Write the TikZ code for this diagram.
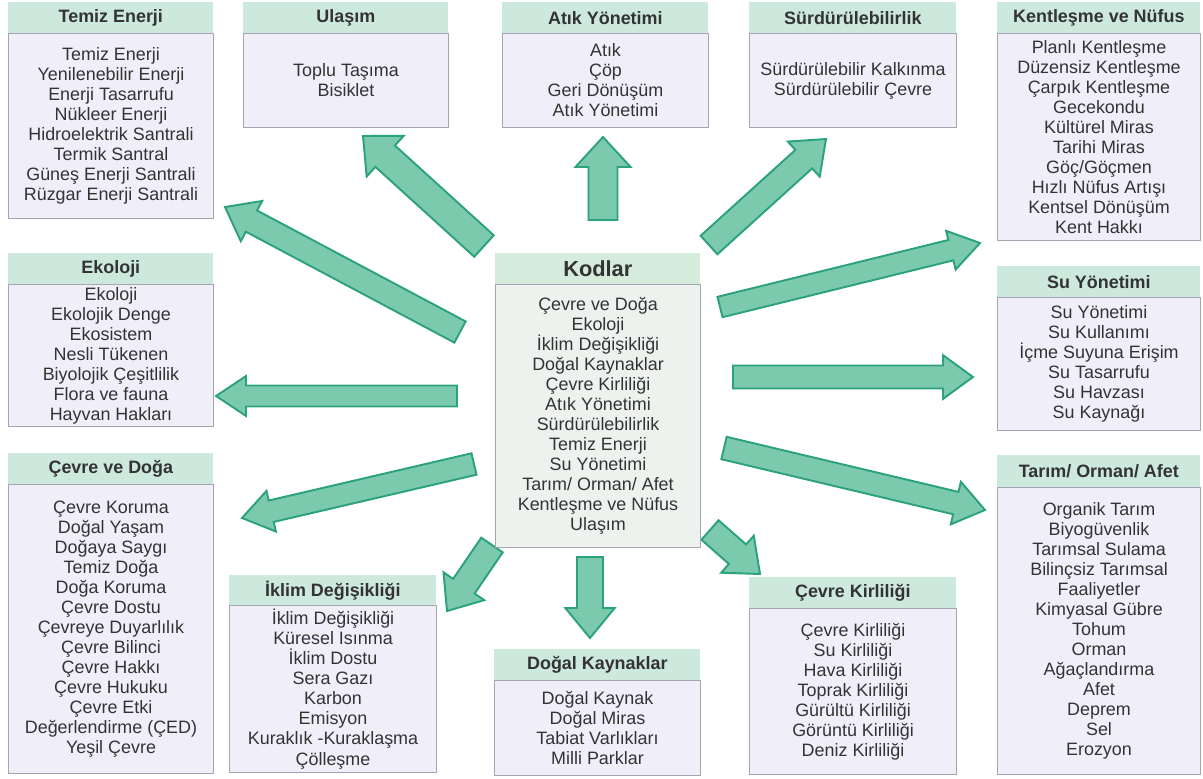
\documentclass[tikz,border=0pt]{standalone}
\usepackage{fontspec}
\setmainfont{Liberation Sans}
\usetikzlibrary{calc}

\definecolor{baslikyesil}{HTML}{CDE8DD}
\definecolor{govdemor}{HTML}{F0EEF8}
\definecolor{kenargri}{HTML}{A4A4B2}
\definecolor{kodbaslik}{HTML}{D5EBDC}
\definecolor{kodgovde}{HTML}{EEF2EF}
\definecolor{okdolgu}{HTML}{7CCAAE}
\definecolor{okkenar}{HTML}{2BA27C}
\definecolor{yazi}{HTML}{333333}

% kalin ok: #1 govde genisligi (px), #2 kuyruk, #3 uc
\newcommand{\kalinok}[3]{%
  \pgfmathsetmacro{\okw}{#1*0.01}%
  \pgfmathsetmacro{\okh}{#1*0.019}%
  \coordinate (oktaban) at ($(#3)!0.6cm!(#2)$);
  \filldraw[okstil] ($(#2)!\okw cm!90:(#3)$) -- ($(oktaban)!\okw cm!90:(#3)$)
    -- ($(oktaban)!\okh cm!90:(#3)$) -- (#3) -- ($(oktaban)!\okh cm!-90:(#3)$)
    -- ($(oktaban)!\okw cm!-90:(#3)$) -- ($(#2)!\okw cm!-90:(#3)$) -- cycle;
}

\begin{document}
\begin{tikzpicture}[x=0.02cm, y=-0.02cm,
    baslik/.style={anchor=north west, fill=baslikyesil, text=yazi, inner sep=0pt,
      font=\fontsize{10.2}{12}\selectfont\bfseries, minimum height=0.62cm},
    liste/.style={anchor=north west, draw=kenargri, line width=0.6pt, fill=govdemor,
      text=yazi, align=center, inner sep=0pt, font=\fontsize{10.2}{11.4}\selectfont},
    okstil/.style={fill=okdolgu, draw=okkenar, line width=1.1pt, line join=miter}]
                \useasboundingbox (0,0) rectangle (1203,778);

                % ok uclari
                \coordinate (k-temiz) at (460,332);  \coordinate (u-temiz) at (225,207);
                \coordinate (k-ulasim) at (484,246); \coordinate (u-ulasim) at (363,136);
                \coordinate (k-atik) at (603,220);   \coordinate (u-atik) at (603,137);
                \coordinate (k-surd) at (709,245);   \coordinate (u-surd) at (826,139);
                \coordinate (k-kent) at (720,307);   \coordinate (u-kent) at (980,243);
                \coordinate (k-su) at (733,377);     \coordinate (u-su) at (973,377);
                \coordinate (k-tarim) at (724,448);  \coordinate (u-tarim) at (985,510);
                \coordinate (k-kirli) at (710,530);  \coordinate (u-kirli) at (760,574);
                \coordinate (k-dogal) at (590,557);  \coordinate (u-dogal) at (590,638);
                \coordinate (k-iklim) at (492,545);  \coordinate (u-iklim) at (447,611);
                \coordinate (k-cevre) at (474,464);  \coordinate (u-cevre) at (242,518);
                \coordinate (k-ekoloji) at (457,396); \coordinate (u-ekoloji) at (216,396);

                \kalinok{24}{k-temiz}{u-temiz}
                \kalinok{29}{k-ulasim}{u-ulasim}
                \kalinok{29}{k-atik}{u-atik}
                \kalinok{25}{k-surd}{u-surd}
                \kalinok{21}{k-kent}{u-kent}
                \kalinok{23}{k-su}{u-su}
                \kalinok{23}{k-tarim}{u-tarim}
                \kalinok{26}{k-kirli}{u-kirli}
                \kalinok{26}{k-dogal}{u-dogal}
                \kalinok{26}{k-iklim}{u-iklim}
                \kalinok{22}{k-cevre}{u-cevre}
                \kalinok{21}{k-ekoloji}{u-ekoloji}

                % ust sira
                \node[baslik, minimum width=4.1cm] (temiz-b) at (8,2) {Temiz Enerji};
                \node[liste, minimum width=4.1cm, minimum height=3.7cm] (temiz) at (8,33)
                  {Temiz Enerji\\Yenilenebilir Enerji\\Enerji Tasarrufu\\Nükleer Enerji\\Hidroelektrik Santrali\\Termik Santral\\Güneş Enerji Santrali\\Rüzgar Enerji Santrali};
                \node[baslik, minimum width=4.1cm] (ulasim-b) at (243,2) {Ulaşım};
                \node[liste, minimum width=4.1cm, minimum height=1.88cm] (ulasim) at (243,33)
                  {Toplu Taşıma\\Bisiklet};
                \node[baslik, minimum width=4.12cm] (atik-b) at (502,2) {Atık Yönetimi};
                \node[liste, minimum width=4.12cm, minimum height=1.88cm] (atik) at (502,33)
                  {Atık\\Çöp\\Geri Dönüşüm\\Atık Yönetimi};
                \node[baslik, minimum width=4.14cm] (surd-b) at (749,2) {Sürdürülebilirlik};
                \node[liste, minimum width=4.14cm, minimum height=1.88cm] (surd) at (749,33)
                  {Sürdürülebilir Kalkınma\\Sürdürülebilir Çevre};
                \node[baslik, minimum width=4.06cm] (kent-b) at (997,2) {Kentleşme ve Nüfus};
                \node[liste, minimum width=4.06cm, minimum height=4.14cm] (kent) at (997,33)
                  {Planlı Kentleşme\\Düzensiz Kentleşme\\Çarpık Kentleşme\\Gecekondu\\Kültürel Miras\\Tarihi Miras\\Göç/Göçmen\\Hızlı Nüfus Artışı\\Kentsel Dönüşüm\\Kent Hakkı};

                % orta sira
                \node[baslik, minimum width=4.1cm] (ekoloji-b) at (8,253) {Ekoloji};
                \node[liste, minimum width=4.1cm, minimum height=2.84cm] (ekoloji) at (8,284)
                  {Ekoloji\\Ekolojik Denge\\Ekosistem\\Nesli Tükenen\\Biyolojik Çeşitlilik\\Flora ve fauna\\Hayvan Hakları};
                \node[baslik, fill=kodbaslik, minimum width=4.1cm, font=\fontsize{12.4}{14}\selectfont\bfseries] (kodlar-b) at (495,253) {Kodlar};
                \node[liste, fill=kodgovde, minimum width=4.1cm, minimum height=5.26cm] (kodlar) at (495,284)
                  {Çevre ve Doğa\\Ekoloji\\İklim Değişikliği\\Doğal Kaynaklar\\Çevre Kirliliği\\Atık Yönetimi\\Sürdürülebilirlik\\Temiz Enerji\\Su Yönetimi\\Tarım/ Orman/ Afet\\Kentleşme ve Nüfus\\Ulaşım};
                \node[baslik, minimum width=4.06cm] (su-b) at (997,266) {Su Yönetimi};
                \node[liste, minimum width=4.06cm, minimum height=2.66cm] (su) at (997,297)
                  {Su Yönetimi\\Su Kullanımı\\İçme Suyuna Erişim\\Su Tasarrufu\\Su Havzası\\Su Kaynağı};

                % alt sira
                \node[baslik, minimum width=4.1cm] (cevre-b) at (8,453) {Çevre ve Doğa};
                \node[liste, minimum width=4.1cm, minimum height=5.78cm] (cevre) at (8,484)
                  {Çevre Koruma\\Doğal Yaşam\\Doğaya Saygı\\Temiz Doğa\\Doğa Koruma\\Çevre Dostu\\Çevreye Duyarlılık\\Çevre Bilinci\\Çevre Hakkı\\Çevre Hukuku\\Çevre Etki\\Değerlendirme (ÇED)\\Yeşil Çevre};
                \node[baslik, minimum width=4.14cm, minimum height=0.6cm] (iklim-b) at (229,575) {İklim Değişikliği};
                \node[liste, minimum width=4.14cm, minimum height=3.34cm] (iklim) at (229,605)
                  {İklim Değişikliği\\Küresel Isınma\\İklim Dostu\\Sera Gazı\\Karbon\\Emisyon\\Kuraklık -Kuraklaşma\\Çölleşme};
                \node[baslik, minimum width=4.12cm] (dogal-b) at (494,649) {Doğal Kaynaklar};
                \node[liste, minimum width=4.12cm, minimum height=1.9cm] (dogal) at (494,680)
                  {Doğal Kaynak\\Doğal Miras\\Tabiat Varlıkları\\Milli Parklar};
                \node[baslik, minimum width=4.14cm] (kirli-b) at (749,577) {Çevre Kirliliği};
                \node[liste, minimum width=4.14cm, minimum height=3.32cm] (kirli) at (749,608)
                  {Çevre Kirliliği\\Su Kirliliği\\Hava Kirliliği\\Toprak Kirliliği\\Gürültü Kirliliği\\Görüntü Kirliliği\\Deniz Kirliliği};
                \node[baslik, minimum width=4.06cm, minimum height=0.64cm] (tarim-b) at (997,455) {Tarım/ Orman/ Afet};
                \node[liste, minimum width=4.06cm, minimum height=5.74cm] (tarim) at (997,487)
                  {Organik Tarım\\Biyogüvenlik\\Tarımsal Sulama\\Bilinçsiz Tarımsal\\Faaliyetler\\Kimyasal Gübre\\Tohum\\Orman\\Ağaçlandırma\\Afet\\Deprem\\Sel\\Erozyon};

            \end{tikzpicture}
\end{document}
